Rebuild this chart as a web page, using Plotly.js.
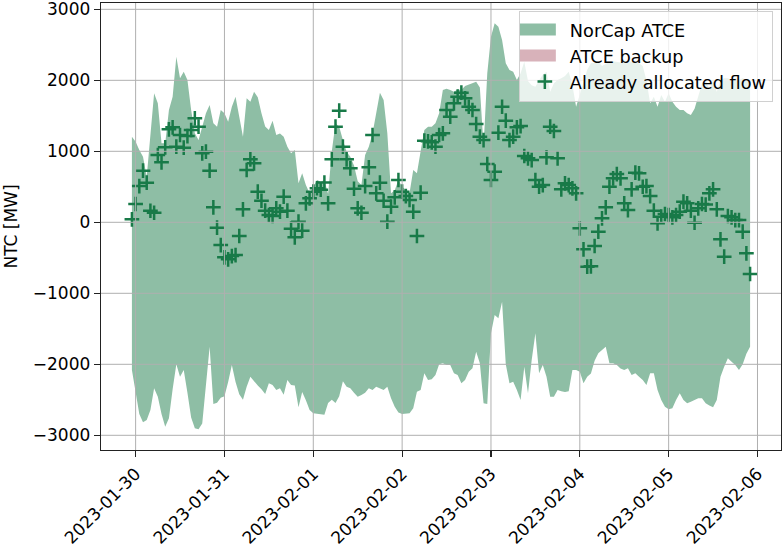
<!DOCTYPE html>
<html>
<head>
<meta charset="utf-8">
<script src="https://cdn.plot.ly/plotly-3.0.1.min.js"></script>
<style>html,body{margin:0;padding:0;background:#fff;}#chart{width:782px;height:547px;}</style>
</head>
<body>
<div id="chart"></div>
<script>
// hourly series, first hour 2023-01-29 23:00
const startTime = '2023-01-29T23:00:00Z';
const stepHours = 1;

const atceUpper = [
 1206,1135,1018,924,642,1257,1817,1676,1113,1113,
 1582,1769,2332,2028,2121,2004,1582,1253,1159,1346,
 1535,1652,1394,1346,1582,1535,1417,1628,1769,1487,
 1206,1746,1699,1840,1760,1535,1350,1300,1431,1230,
 1250,1206,1065,972,1018,549,690,525,408,500,
 596,570,596,400,1000,1394,1346,1159,994,924,
 800,580,525,948,1065,1250,1511,1826,1723,1253,
 408,450,596,501,455,412,737,690,1000,1300,
 1346,1346,1394,1535,1863,1880,1863,1840,1870,1863,
 1920,1940,1966,1980,1900,1065,2100,2614,2803,2755,
 2568,2240,2145,2120,2004,2100,2262,1990,1930,1910,
 2000,2080,2121,1840,1960,2004,2028,2060,2121,1930,
 1628,1800,2000,2150,2240,2250,2260,2200,2230,2262,
 2270,2262,2250,2262,2270,2262,2250,2240,2200,2000,
 1676,1769,1628,1793,1699,1817,1699,1628,1582,1582,
 1535,1511,1600,1769,1950,2004,1863,2004,1840,2004,
 2030,2030,2004,2030,2004,2030,2004,2004
];
const atceLower = [
 -2080,-2386,-2700,-2817,-2785,-2644,-2338,-2456,-2700,-2879,
 -2761,-2350,-2000,-2175,-2080,-2400,-2750,-2900,-2916,-2832,
 -2300,-1752,-2559,-2540,-2470,-2450,-2250,-2010,-2250,-2420,
 -2500,-2315,-2175,-2245,-2300,-2350,-2418,-2268,-2290,-2362,
 -2338,-2428,-2221,-2290,-2300,-2606,-2390,-2507,-2644,-2690,
 -2700,-2705,-2709,-2545,-2500,-2545,-2451,-2240,-2315,-2338,
 -2400,-2456,-2433,-2400,-2338,-2362,-2315,-2340,-2362,-2315,
 -2479,-2597,-2680,-2700,-2700,-2690,-2620,-2386,-2362,-2127,
 -2221,-2210,-2150,-2000,-1986,-2010,-2010,-2127,-2151,-2268,
 -2221,-2104,-2057,-1822,-1986,-2549,-2559,-1563,-1306,-1352,
 -1118,-2000,-2268,-2245,-2362,-2503,-2033,-2409,-1939,-1563,
 -2127,-2010,-2175,-2456,-2456,-2362,-2380,-2390,-2380,-2080,
 -2080,-2104,-2268,-2175,-2130,-1950,-1846,-1800,-1752,-1986,
 -1986,-2010,-2060,-2080,-2057,-2151,-2127,-2175,-2221,-2292,
 -2127,-2127,-2362,-2503,-2597,-2634,-2620,-2503,-2409,-2503,
 -2550,-2527,-2500,-2479,-2479,-2550,-2580,-2606,-2503,-2175,
 -2033,-1916,-1963,-2010,-2080,-2000,-1850,-1752
];
const allocatedFlow = [
 42,258,511,727,558,163,135,948,845,1056,
 1310,1338,1065,1230,1051,1215,1300,1465,1347,972,
 995,727,211,-76,-320,-493,-521,-475,-461,-193,
 183,737,887,831,431,304,164,103,89,197,
 150,361,164,-90,-211,9,-118,268,338,431,
 480,460,560,268,887,1347,1572,1065,887,760,
 473,197,135,511,775,1230,408,558,304,9,
 220,352,596,431,370,314,150,-193,417,1150,
 1140,1126,1065,1230,1253,1582,1488,1676,1769,1826,
 1746,1628,1582,1385,1206,1159,821,596,713,1262,
 1628,1431,1159,1206,1338,1356,934,901,877,596,
 501,525,915,1347,1286,901,465,549,525,479,
 408,-85,-380,-625,-620,-334,-132,56,211,501,
 619,680,620,268,173,465,699,690,501,510,
 370,164,-14,79,117,103,70,103,150,290,
 268,164,-6,197,258,250,408,465,183,-240,
 -484,89,70,32,32,-132,-437,-728
];
// ATCE backup: no values in this period (legend entry only)
const backupUpper = [null];
const backupLower = [null];

const xTicks = ['2023-01-30','2023-01-31','2023-02-01','2023-02-02','2023-02-03','2023-02-04','2023-02-05','2023-02-06'];
const yTicks = [-3000,-2000,-1000,0,1000,2000,3000];
const yTickText = ['\u22123000','\u22122000','\u22121000','0','1000','2000','3000'];
const seriesNames = ['NorCap ATCE','ATCE backup','Already allocated flow'];

function hourStamp(i){
  const d = new Date(Date.parse(startTime) + i*stepHours*3600e3);
  return d.toISOString().slice(0,16).replace('T',' ');
}
const times = atceUpper.map((_,i)=>hourStamp(i));
const backupTimes = backupUpper.map((_,i)=>hourStamp(i));

const GREEN_FILL = 'rgb(142,190,165)';
const PINK_FILL = 'rgb(216,178,186)';
const MARK = 'rgb(24,122,72)';
const FONT = 'DejaVu Sans, sans-serif';

const traces = [
  {x: times, y: atceLower, type:'scatter', mode:'lines', line:{width:0, color:GREEN_FILL}, showlegend:false, hoverinfo:'skip'},
  {x: times, y: atceUpper, type:'scatter', mode:'lines', fill:'tonexty', fillcolor:GREEN_FILL, line:{width:0, color:GREEN_FILL}, name: seriesNames[0]},
  {x: backupTimes, y: backupLower, type:'scatter', mode:'lines', line:{width:0}, showlegend:false, hoverinfo:'skip'},
  {x: backupTimes, y: backupUpper, type:'scatter', mode:'lines', fill:'tonexty', fillcolor:PINK_FILL, line:{width:0, color:PINK_FILL}, name: seriesNames[1]},
  {x: times, y: allocatedFlow, type:'scatter', mode:'markers', name: seriesNames[2],
   marker:{symbol:'cross-thin-open', size:10.5, color:MARK, line:{width:2.5, color:MARK}}}
];

const shapes = [];
xTicks.forEach(t => shapes.push({type:'line', xref:'x', yref:'paper', x0:t, x1:t, y0:0, y1:1, line:{color:'#b0b0b0', width:1}, layer:'above'}));
yTicks.forEach(v => shapes.push({type:'line', xref:'paper', yref:'y', x0:0, x1:1, y0:v, y1:v, line:{color:'#b0b0b0', width:1}, layer:'above'}));

const layout = {
  width:782, height:547,
  margin:{l:101, r:1, t:3, b:97, pad:0},
  paper_bgcolor:'#fff', plot_bgcolor:'#fff',
  font:{family:FONT, size:17, color:'#000'},
  showlegend:true,
  xaxis:{type:'date', range:['2023-01-29 14:39','2023-02-06 06:21'],
    tickmode:'array', tickvals:xTicks, ticktext:xTicks, tickangle:-45,
    showgrid:false, zeroline:false, showline:true, mirror:true, linecolor:'#222', linewidth:1.3,
    ticks:'outside', ticklen:6, tickwidth:1.2, tickcolor:'#222', tickfont:{family:FONT, size:17},
    ticklabeloverflow:'allow'},
  yaxis:{range:[-3207,3089], tickmode:'array', tickvals:yTicks, ticktext:yTickText,
    showgrid:false, zeroline:false, showline:true, mirror:true, linecolor:'#222', linewidth:1.3,
    ticks:'outside', ticklen:6, tickwidth:1.2, tickcolor:'#222', tickfont:{family:FONT, size:17},
    ticklabeloverflow:'allow',
    title:{text:'NTC [MW]', font:{family:FONT, size:17}, standoff:10}},
  legend:{x:0.988, y:0.983, xanchor:'right', yanchor:'top', bgcolor:'rgba(255,255,255,0.8)',
    bordercolor:'#d0d0d0', borderwidth:1, font:{family:FONT, size:17.7}, itemwidth:40,
    traceorder:'normal', tracegroupgap:0},
  shapes: shapes
};

Plotly.newPlot('chart', traces, layout, {staticPlot:true, displayModeBar:false}).then(gd => {
  // matplotlib-style legend patches (wider, taller rectangles)
  gd.querySelectorAll('.legendfill path').forEach(p => {
    if (p.getAttribute('d')) p.setAttribute('d', 'M0,-6h36v12h-36z');
  });
});
</script>
</body>
</html>
